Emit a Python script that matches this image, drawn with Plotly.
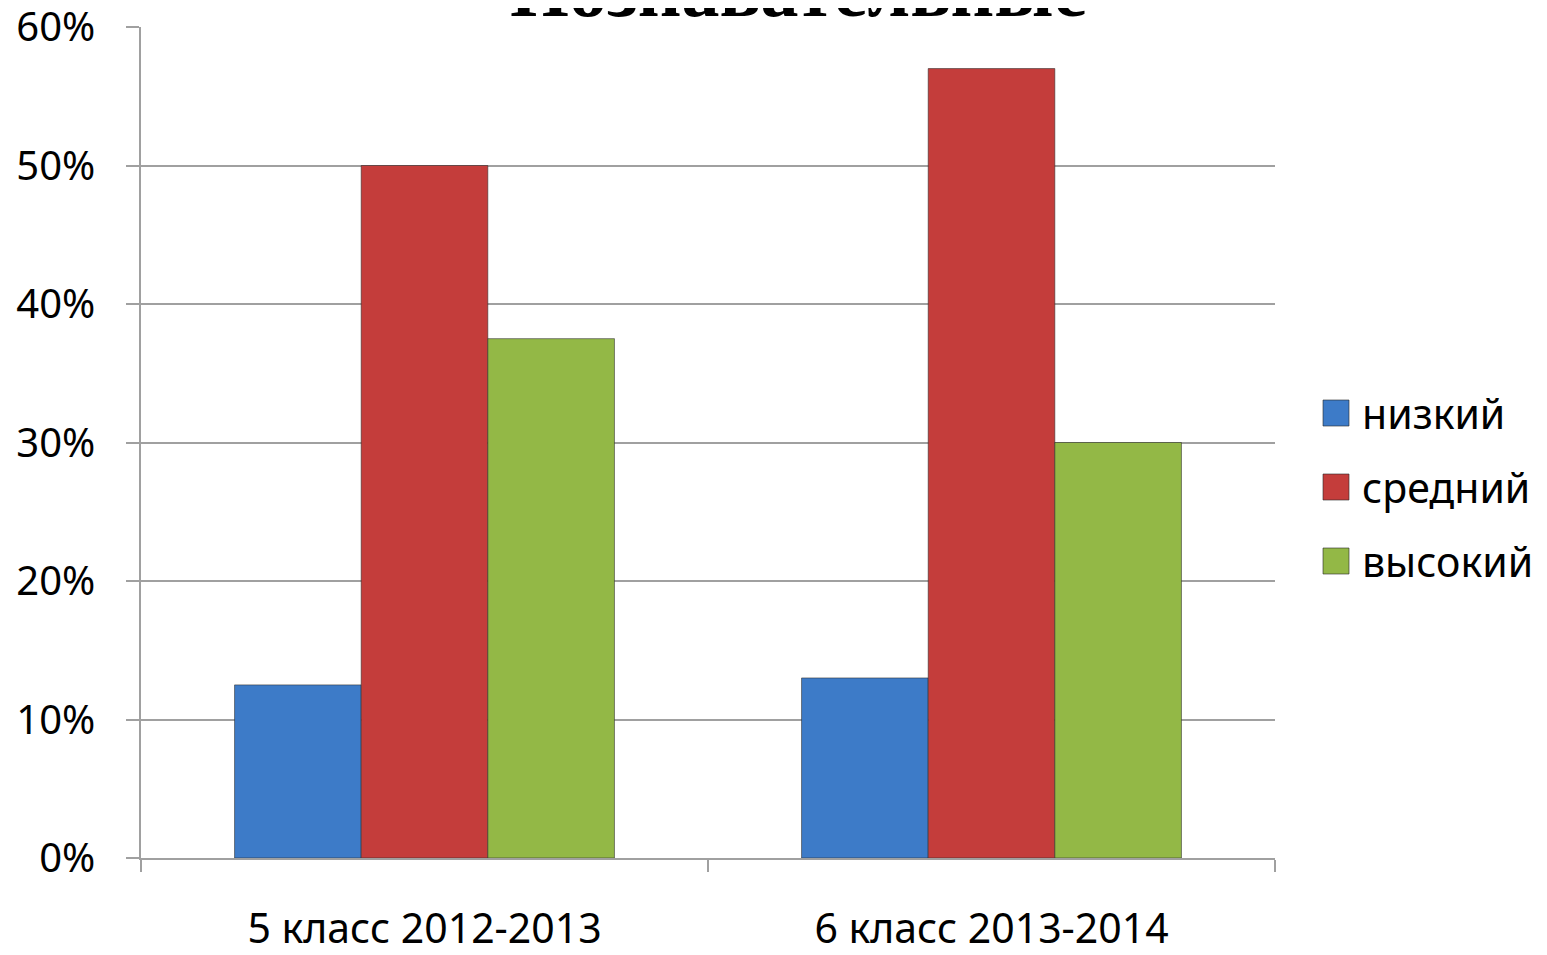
import plotly.graph_objects as go

categories = ["5 класс 2012-2013", "6 класс 2013-2014"]
series_names = ["низкий", "средний", "высокий"]
low = [12.5, 13.0]
mid = [50.0, 57.0]
high = [37.5, 30.0]
series_values = [low, mid, high]
colors = ["#3d7bc8", "#c43d3b", "#93b846"]
title_text = "Познавательные"
y_ticks = [0, 10, 20, 30, 40, 50, 60]
y_tick_labels = ["0%", "10%", "20%", "30%", "40%", "50%", "60%"]

fig = go.Figure()
for name, vals, col in zip(series_names, series_values, colors):
    fig.add_trace(go.Bar(
        x=categories, y=vals, name=name,
        marker=dict(color=col, line=dict(color="rgba(40,40,40,0.55)", width=1)),
        showlegend=False,
    ))

# page body adds an 8px offset; compensate so plot lands where the reference has it
OFF = 8
W, H = 1547 - OFF, 955 - OFF
L, R, T, B = 141 - OFF, 272, 27 - OFF, 97
pw = W - L - R
ph = H - T - B

shapes = []
annotations = []
legend_y_px = [413, 487, 561]
for name, col, ypx in zip(series_names, colors, legend_y_px):
    yp = (955 - B - ypx) / ph
    xp = (1336 - 141) / pw
    shapes.append(dict(
        type="rect", xref="paper", yref="paper",
        xsizemode="pixel", ysizemode="pixel",
        xanchor=xp, yanchor=yp,
        x0=-13, x1=13, y0=-13, y1=13,
        fillcolor=col, line=dict(color="rgba(40,40,40,0.6)", width=1),
    ))
    annotations.append(dict(
        text=name, xref="paper", yref="paper",
        x=(1360 - 141) / pw, y=yp, xanchor="left", yanchor="middle",
        showarrow=False, font=dict(family="Noto Sans", size=41, color="#000000"),
    ))

annotations.append(dict(
    text="<b>" + title_text + "</b>", xref="paper", yref="paper",
    x=(798 - 141) / pw, y=(955 - B - 34) / ph, xanchor="center", yanchor="bottom",
    showarrow=False, font=dict(family="Liberation Serif", size=76, color="#000000"),
))

fig.update_layout(
    width=W, height=H,
    margin=dict(l=L, r=R, t=T, b=B, autoexpand=False),
    paper_bgcolor="white", plot_bgcolor="white",
    barmode="group", bargap=0.33, bargroupgap=0,
    shapes=shapes, annotations=annotations,
    font=dict(family="Noto Sans", color="#000000"),
)
fig.update_yaxes(
    range=[0, 60], tickvals=y_ticks, ticktext=y_tick_labels,
    showgrid=True, gridcolor="#a0a0a0", gridwidth=1.5,
    showline=True, linecolor="#a0a0a0", linewidth=1.5,
    ticks="outside", ticklen=13, tickcolor="#a0a0a0", tickwidth=1.5,
    tickfont=dict(family="Noto Sans", size=40, color="#000000"),
    ticklabelstandoff=23, ticklabeloverflow="allow", zeroline=False,
)
fig.update_xaxes(
    showline=True, linecolor="#a0a0a0", linewidth=1.5,
    ticks="outside", tickson="boundaries", ticklen=12, tickcolor="#a0a0a0", tickwidth=1.5,
    tickfont=dict(family="Noto Sans", size=41, color="#000000"),
    ticklabelstandoff=34, showgrid=False,
)

fig.write_html("out.html")
